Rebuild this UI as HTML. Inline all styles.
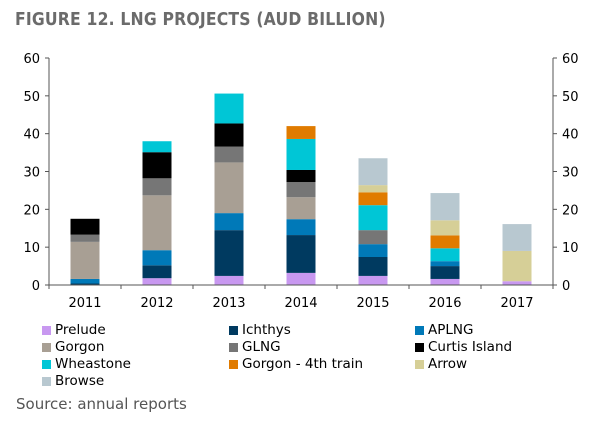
<!DOCTYPE html>
<html><head><meta charset="utf-8"><style>
body{margin:0;width:610px;height:426px;background:#fff;font-family:"DejaVu Sans","Liberation Sans",sans-serif;overflow:hidden;position:relative}
.title{position:absolute;left:15px;top:9px;font-size:18px;font-weight:bold;color:#6b6b6b;letter-spacing:0.2px;transform:scaleX(0.87);transform-origin:left top;white-space:nowrap}
.leg{position:absolute;font-size:13.5px;color:#000;display:flex;align-items:center;height:16px}
.leg span.sw{width:9px;height:9px;margin-right:4px;display:inline-block}
.src{position:absolute;left:16px;top:395px;font-size:15px;color:#555}
svg{position:absolute;left:0;top:0}
</style></head><body>
<div class="title">FIGURE 12. LNG PROJECTS (AUD BILLION)</div>
<svg id="chart" width="610" height="320"></svg>
<div id="legend"></div>
<div class="src">Source: annual reports</div>
<script>
const years=["2011","2012","2013","2014","2015","2016","2017"];
const seriesNames=["Prelude","Ichthys","APLNG","Gorgon","GLNG","Curtis Island","Wheastone","Gorgon - 4th train","Arrow","Browse"];
const colors=["#c898f0","#003a60","#0079b8","#a89f94","#767676","#000000","#00c6d6","#e07b00","#d6cf97","#b8c8d0"];
const prelude=[0,1.8,2.4,3.2,2.4,1.6,1.0];
const ichthys=[0.4,3.4,12.1,10.0,5.0,3.4,0];
const aplng=[1.2,4.0,4.5,4.2,3.4,1.3,0];
const gorgon=[9.8,14.5,13.4,5.8,0,0,0];
const glng=[1.9,4.5,4.2,4.0,3.7,0,0];
const curtis=[4.2,6.9,6.1,3.2,0,0,0];
const wheatstone=[0,2.9,7.9,8.2,6.6,3.4,0];
const gorgon4=[0,0,0,3.4,3.4,3.4,0];
const arrow=[0,0,0,0,1.9,4.0,8.0];
const browse=[0,0,0,0,7.1,7.2,7.1];
const yTicks=[0,10,20,30,40,50,60];
const seriesData=[prelude,ichthys,aplng,gorgon,glng,curtis,wheatstone,gorgon4,arrow,browse];

const NS="http://www.w3.org/2000/svg";
const svg=document.getElementById('chart');
const x0=49,x1=553,yZero=285,yTop=58,yMax=60;
const y=v=>yZero-(v/yMax)*(yZero-yTop);
const step=(x1-x0)/years.length;
const xc=i=>x0+step*(i+0.5);
const bw=29;
function mk(t,a){const e=document.createElementNS(NS,t);for(const k in a)e.setAttribute(k,a[k]);svg.appendChild(e);return e;}
years.forEach((yr,i)=>{
  let cum=0;
  seriesData.forEach((s,j)=>{
    const v=s[i]; if(!v) return;
    const r=mk('rect',{x:xc(i)-bw/2,y:y(cum+v),width:bw,height:y(cum)-y(cum+v),fill:colors[j]});
    
    
    cum+=v;
  });
});
const ax=mk('path',{d:`M${x0} ${yTop}V${yZero}H${x1}V${yTop}`,stroke:'#555',fill:'none','stroke-width':1});


yTicks.forEach(t=>{
  mk('line',{x1:x0-4,x2:x0,y1:y(t),y2:y(t),stroke:'#555'});
  mk('line',{x1:x1,x2:x1+4,y1:y(t),y2:y(t),stroke:'#555'});
  const l=mk('text',{x:x0-9,y:y(t)+5,'text-anchor':'end','font-size':13,fill:'#000'});l.textContent=t;
  
  
  const r=mk('text',{x:x1+9,y:y(t)+5,'font-size':13,fill:'#000'});r.textContent=t;
  
  
});
for(let i=0;i<=years.length;i++) mk('line',{x1:x0+step*i,x2:x0+step*i,y1:yZero,y2:yZero+4,stroke:'#555'});
years.forEach((yr,i)=>{
  const t=mk('text',{x:xc(i),y:307,'text-anchor':'middle','font-size':13,fill:'#000'});t.textContent=yr;
  
  
});
const cols=[42,229,415],rows=[322,339,356,373];
seriesNames.forEach((n,j)=>{
  const d=document.createElement('div');d.className='leg';
  d.style.left=cols[j%3]+'px';d.style.top=rows[Math.floor(j/3)]+'px';
  d.innerHTML='<span class="sw" style="background:'+colors[j]+'"></span>'+n;
  
  
  document.body.appendChild(d);
});
</script>
</body></html>
